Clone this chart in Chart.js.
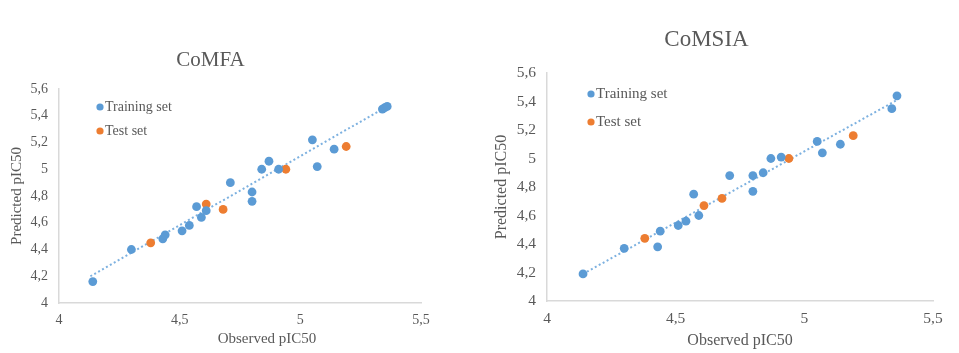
<!DOCTYPE html>
<html lang="en">
<head>
<meta charset="UTF-8">
<title>CoMFA / CoMSIA - observed vs predicted pIC50</title>
<script src="https://cdn.jsdelivr.net/npm/chart.js"></script>
<style>
  body { margin: 0; background: #fff; }
  #wrap { position: relative; width: 959px; height: 353px; overflow: hidden; }
  canvas { position: absolute; top: 0; }
  #comfa { left: 0; }
  #comsia { left: 480px; }
</style>
</head>
<body>
<div id="wrap">
  <canvas id="comfa" width="470" height="353"></canvas>
  <canvas id="comsia" width="479" height="353"></canvas>
</div>

<script>
// tick labels, decimal comma like the original
const xTickLabels = ['4', '4,5', '5', '5,5'];
const yTickLabels = ['4', '4,2', '4,4', '4,6', '4,8', '5', '5,2', '5,4', '5,6'];

// CoMFA
const comfaTrainX = [4.14, 4.30, 4.43, 4.44, 4.51, 4.54, 4.57, 4.59, 4.61, 4.71, 4.80, 4.80, 4.84, 4.87, 4.91, 5.05, 5.07, 5.14, 5.34, 5.35, 5.36];
const comfaTrainY = [4.16, 4.40, 4.48, 4.51, 4.54, 4.58, 4.72, 4.64, 4.69, 4.90, 4.83, 4.76, 5.00, 5.06, 5.00, 5.22, 5.02, 5.15, 5.45, 5.46, 5.47];
const comfaTestX = [4.38, 4.61, 4.68, 4.94, 5.19];
const comfaTestY = [4.45, 4.74, 4.70, 5.00, 5.17];
const comfaTrendX = [4.13, 5.36];
const comfaTrendY = [4.20, 5.47];

// CoMSIA
const comsiaTrainX = [4.14, 4.30, 4.43, 4.44, 4.51, 4.54, 4.57, 4.59, 4.71, 4.80, 4.80, 4.84, 4.87, 4.91, 5.05, 5.07, 5.14, 5.34, 5.36];
const comsiaTrainY = [4.19, 4.37, 4.38, 4.49, 4.53, 4.56, 4.75, 4.60, 4.88, 4.88, 4.77, 4.90, 5.00, 5.01, 5.12, 5.04, 5.10, 5.35, 5.44];
const comsiaTestX = [4.38, 4.61, 4.68, 4.94, 5.19];
const comsiaTestY = [4.44, 4.67, 4.72, 5.00, 5.16];
const comsiaTrendX = [4.14, 5.36];
const comsiaTrendY = [4.19, 5.41];

const BLUE = '#5B9BD5';
const ORANGE = '#ED7D31';
const TREND = '#7DB1E0';
const GREY = '#595959';
const AXIS = '#d9d9d9';
const SERIF = "'Liberation Serif', 'Times New Roman', serif";

Chart.defaults.font.family = SERIF;
Chart.defaults.color = GREY;

const pts = (xs, ys) => xs.map((x, i) => ({ x: x, y: ys[i] }));

// legend inside the plot + x axis title (off-centre in the original)
const overlay = {
  id: 'overlay',
  afterDraw(chart, args, o) {
    const ctx = chart.ctx;
    const a = chart.chartArea;
    ctx.save();
    ctx.fillStyle = GREY;
    ctx.textBaseline = 'middle';
    ctx.textAlign = 'center';
    ctx.font = o.xTitleSize + 'px ' + SERIF;
    ctx.fillText(o.xTitle, (a.left + a.right) / 2 + o.xTitleShift, o.xTitleY);

    ctx.textAlign = 'left';
    ctx.font = o.legendSize + 'px ' + SERIF;
    chart.data.datasets.forEach((ds, i) => {
      if (!ds.label) return;
      const x = a.left + o.legendLeft;
      const y = a.top + o.legendTop + i * o.legendGap;
      ctx.beginPath();
      ctx.arc(x, y, 3.6, 0, Math.PI * 2);
      ctx.fillStyle = ds.backgroundColor;
      ctx.fill();
      ctx.fillStyle = GREY;
      ctx.fillText(ds.label, x + 5, y);
    });
    ctx.restore();
  }
};

function makeChart(id, c) {
  return new Chart(document.getElementById(id), {
    type: 'scatter',
    data: {
      datasets: [
        {
          label: 'Training set',
          data: pts(c.trainX, c.trainY),
          backgroundColor: BLUE,
          borderColor: BLUE,
          pointRadius: 4.4,
          borderWidth: 0,
          order: 1
        },
        {
          label: 'Test set',
          data: pts(c.testX, c.testY),
          backgroundColor: ORANGE,
          borderColor: ORANGE,
          pointRadius: 4.4,
          borderWidth: 0,
          order: 1
        },
        {
          label: '',
          data: pts(c.trendX, c.trendY),
          showLine: true,
          borderColor: TREND,
          borderWidth: 2,
          borderDash: [2, 2.5],
          pointRadius: 0,
          order: 2
        }
      ]
    },
    options: {
      responsive: false,
      animation: false,
      events: [],
      layout: { padding: { left: 0, right: c.padRight, top: 0, bottom: 0 } },
      plugins: {
        legend: { display: false },
        tooltip: { enabled: false },
        title: {
          display: true,
          text: c.title,
          color: GREY,
          font: { size: c.titleSize, weight: 'normal' },
          padding: { top: c.titleTop, bottom: c.titleBottom }
        },
        overlay: {
          xTitle: 'Observed pIC50',
          xTitleSize: c.axisTitleSize,
          xTitleShift: c.xTitleShift,
          xTitleY: c.xTitleY,
          legendSize: c.legendSize,
          legendLeft: c.legendLeft,
          legendTop: c.legendTop,
          legendGap: c.legendGap
        }
      },
      scales: {
        x: {
          min: 4, max: 5.5,
          grid: { display: false, drawTicks: false },
          border: { display: true, color: AXIS, width: 1.5 },
          ticks: {
            stepSize: 0.5,
            padding: 9,
            maxRotation: 0,
            font: { size: c.tickSize },
            callback: (v, i) => xTickLabels[i]
          },
          afterFit: s => { s.height = c.xAxisHeight; }
        },
        y: {
          min: 4, max: 5.6,
          grid: { display: false, drawTicks: false },
          border: { display: true, color: AXIS, width: 1.5 },
          title: {
            display: true,
            text: 'Predicted pIC50',
            color: GREY,
            font: { size: c.axisTitleSize },
            padding: { top: c.yTitlePad, bottom: 0 }
          },
          ticks: {
            stepSize: 0.2,
            padding: 11,
            font: { size: c.tickSize },
            callback: (v, i) => yTickLabels[i]
          },
          afterFit: s => { s.width = c.yAxisWidth; }
        }
      }
    },
    plugins: [overlay]
  });
}

makeChart('comfa', {
  title: 'CoMFA', titleSize: 21, titleTop: 47.4, titleBottom: 16.4,
  trainX: comfaTrainX, trainY: comfaTrainY,
  testX: comfaTestX, testY: comfaTestY,
  trendX: comfaTrendX, trendY: comfaTrendY,
  padRight: 49, yAxisWidth: 59, xAxisHeight: 50,
  tickSize: 14, axisTitleSize: 15, yTitlePad: 8,
  xTitleShift: 27, xTitleY: 339,
  legendSize: 14, legendLeft: 41, legendTop: 18, legendGap: 24
});

makeChart('comsia', {
  title: 'CoMSIA', titleSize: 23, titleTop: 26.2, titleBottom: 19.2,
  trainX: comsiaTrainX, trainY: comsiaTrainY,
  testX: comsiaTestX, testY: comsiaTestY,
  trendX: comsiaTrendX, trendY: comsiaTrendY,
  padRight: 26, yAxisWidth: 67, xAxisHeight: 52,
  tickSize: 15.5, axisTitleSize: 16, yTitlePad: 12.4,
  xTitleShift: 0, xTitleY: 341,
  legendSize: 15, legendLeft: 44, legendTop: 21, legendGap: 28
});
</script>
</body>
</html>
